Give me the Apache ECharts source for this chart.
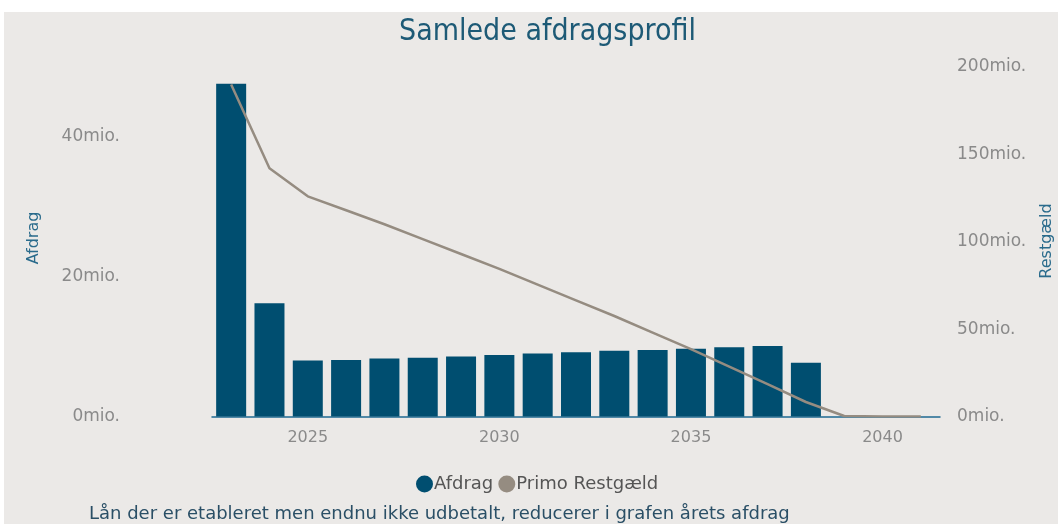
<!DOCTYPE html>
<html>
<head>
<meta charset="utf-8">
<script src="https://cdn.jsdelivr.net/npm/echarts@6/dist/echarts.min.js"></script>
<style>
html,body{margin:0;padding:0;background:#ffffff;}
#chart{position:absolute;left:4px;top:12px;width:1054px;height:512px;background:#ebe9e7;}
</style>
</head>
<body>
<div id="chart"></div>
<script>
const years = ['2023','2024','2025','2026','2027','2028','2029','2030','2031','2032','2033','2034','2035','2036','2037','2038','2039','2040','2041'];
const afdrag = [47.6, 16.2, 8.0, 8.1, 8.3, 8.4, 8.6, 8.8, 9.0, 9.2, 9.4, 9.5, 9.7, 9.9, 10.1, 7.7, 0, 0, 0];
const restgaeld = [190, 142, 126, 118, 110, 101.5, 93, 84.5, 75.5, 66.5, 57.5, 48, 38.5, 28.5, 18.5, 8.3, 0.3, 0, 0];
const leftTicks = [0, 20, 40];
const rightTicks = [0, 50, 100, 150, 200];

const FONT = 'DejaVu Sans';
const chart = echarts.init(document.getElementById('chart'));
chart.setOption({
  backgroundColor: '#ebe9e7',
  animation: false,
  textStyle: {fontFamily: FONT},
  title: [{
    text: 'Samlede afdragsprofil',
    left: 390, top: 0,
    textStyle: {color: '#1d5a76', fontSize: 30, fontWeight: 'normal', fontFamily: "'DejaVu Sans Condensed', 'DejaVu Sans'"}
  }, {
    text: 'Lån der er etableret men endnu ikke udbetalt, reducerer i grafen årets afdrag',
    left: 80, top: 488,
    textStyle: {color: '#2a4f66', fontSize: 18, fontWeight: 'normal', fontFamily: FONT}
  }],
  legend: {
    top: 458, left: 407,
    icon: 'circle', itemWidth: 17, itemHeight: 17, itemGap: 5,
    textStyle: {color: '#555555', fontSize: 18, fontFamily: FONT, padding: [0,0,0,-4]},
    data: ['Afdrag', 'Primo Restgæld']
  },
  grid: {left: 208, right: 118, top: 55, bottom: 107.5},
  xAxis: {
    type: 'category', data: years, boundaryGap: true,
    axisLine: {show: true, lineStyle: {color: '#1f6a92', width: 1.5}},
    axisTick: {show: false},
    axisLabel: {
      color: '#8a8a8a', fontSize: 16, margin: 13,
      interval: (i, v) => Number(v) % 5 === 0
    },
    splitLine: {show: false}
  },
  yAxis: [{
    type: 'value', min: 0, max: 50, interval: 20,
    axisLine: {show: false}, axisTick: {show: false}, splitLine: {show: false},
    axisLabel: {
      color: '#8a8a8a', fontSize: 17, margin: 92, showMaxLabel: false,
      formatter: v => leftTicks.includes(v) ? v + 'mio.' : ''
    }
  }, {
    type: 'value', min: 0, max: 200, interval: 50, position: 'right',
    axisLine: {show: false}, axisTick: {show: false}, splitLine: {show: false},
    axisLabel: {
      color: '#8a8a8a', fontSize: 17, margin: 17,
      formatter: v => rightTicks.includes(v) ? v + 'mio.' : ''
    }
  }],
  graphic: [{
    type: 'text', x: 30, y: 226, rotation: Math.PI / 2,
    style: {text: 'Afdrag', fill: '#2a6b8c', fontSize: 16, fontFamily: FONT, align: 'center', verticalAlign: 'middle'}
  }, {
    type: 'text', x: 1043, y: 229, rotation: Math.PI / 2,
    style: {text: 'Restgæld', fill: '#2a6b8c', fontSize: 16, fontFamily: FONT, align: 'center', verticalAlign: 'middle'}
  }],
  series: [{
    name: 'Afdrag', type: 'bar', data: afdrag, yAxisIndex: 0,
    barWidth: 30,
    itemStyle: {color: '#004e70'}
  }, {
    name: 'Primo Restgæld', type: 'line', data: restgaeld, yAxisIndex: 1,
    showSymbol: false, symbol: 'circle',
    lineStyle: {color: '#958c81', width: 2.5},
    itemStyle: {color: '#958c81'}
  }]
});
</script>
</body>
</html>
